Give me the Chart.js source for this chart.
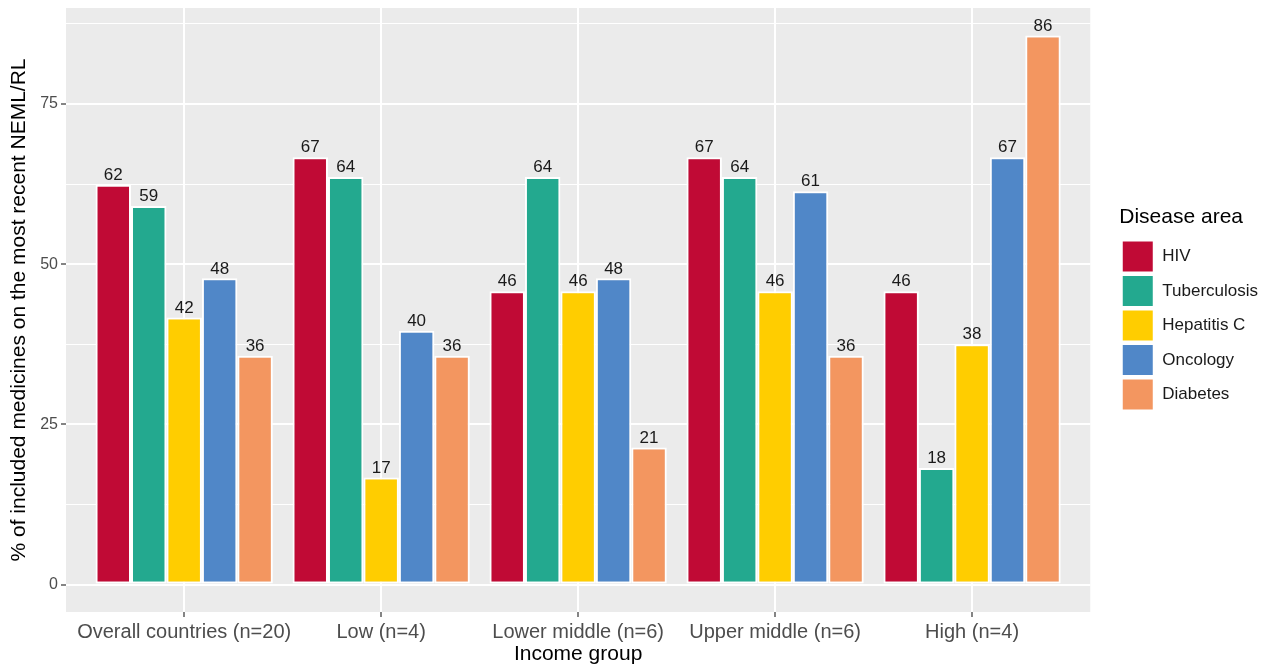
<!DOCTYPE html>
<html>
<head>
<meta charset="utf-8">
<script src="https://cdn.jsdelivr.net/npm/chart.js@4.4.1/dist/chart.umd.min.js"></script>
<style>
  html, body { margin: 0; padding: 0; background: #fff; }
  #wrap { width: 1275px; height: 667px; position: relative; }
</style>
</head>
<body>
<div id="wrap"><canvas id="chart"></canvas></div>
<script>
// income groups on the x axis
const incomeGroups = ['Overall countries (n=20)', 'Low (n=4)', 'Lower middle (n=6)', 'Upper middle (n=6)', 'High (n=4)'];

// % of included medicines per disease area
const hivValues      = [62.4, 66.7, 45.8, 66.7, 45.8];
const tbValues       = [59.1, 63.6, 63.6, 63.6, 18.2];
const hepCValues     = [41.7, 16.7, 45.8, 45.8, 37.5];
const oncologyValues = [47.8, 39.6, 47.8, 61.4, 66.7];
const diabetesValues = [35.7, 35.7, 21.4, 35.7, 85.7];

const diseaseNames  = ['HIV', 'Tuberculosis', 'Hepatitis C', 'Oncology', 'Diabetes'];
const diseaseColors = ['#C00A35', '#23A98F', '#FFCD00', '#5087C8', '#F39660'];
const seriesValues  = [hivValues, tbValues, hepCValues, oncologyValues, diabetesValues];

const yTicks = [0, 25, 50, 75];

const FONT = '"Liberation Sans", Arial, sans-serif';
const LEGEND_GAP = 29; // space between panel and legend keys

// grey panel like ggplot
const panelBg = {
    id: 'panelBg',
    beforeDraw(chart) {
        const { ctx, chartArea: a } = chart;
        ctx.save();
        ctx.fillStyle = '#EBEBEB';
        ctx.fillRect(a.left, a.top, a.right - a.left, a.bottom - a.top);
        ctx.restore();
    }
};

// push the legend away from the panel
const legendGap = {
    id: 'legendGap',
    afterInit(chart) {
        const lg = chart.legend;
        const fit = lg.fit.bind(lg);
        lg.fit = function () { fit(); this.width += LEGEND_GAP; };
    },
    afterLayout(chart) {
        chart.legend.left += LEGEND_GAP;
        chart.legend.right += LEGEND_GAP;
    }
};

// numbers above bars
const barLabels = {
    id: 'barLabels',
    afterDatasetsDraw(chart) {
        const ctx = chart.ctx;
        ctx.save();
        ctx.font = '17px ' + FONT;
        ctx.fillStyle = '#1A1A1A';
        ctx.textAlign = 'center';
        ctx.textBaseline = 'bottom';
        chart.data.datasets.forEach((ds, i) => {
            chart.getDatasetMeta(i).data.forEach((bar, j) => {
                ctx.fillText(Math.round(ds.data[j].y), bar.x, bar.y - 1);
            });
        });
        ctx.restore();
    }
};

const datasets = diseaseNames.map((name, i) => ({
    label: name,
    data: seriesValues[i].map((v, j) => ({ x: j, y: v })),
    backgroundColor: diseaseColors[i],
    borderColor: '#FFFFFF',
    borderWidth: 2,
    borderSkipped: false,
    categoryPercentage: 0.9,
    barPercentage: 1.0
}));

new Chart(document.getElementById('chart'), {
    type: 'bar',
    data: { datasets },
    plugins: [panelBg, legendGap, barLabels],
    options: {
        responsive: true,
        maintainAspectRatio: false,
        animation: false,
        layout: { padding: { top: 8, right: 7, left: 0, bottom: 0 } },
        plugins: {
            tooltip: { enabled: false },
            legend: {
                position: 'right',
                align: 'center',
                fullSize: false,
                title: {
                    display: true,
                    position: 'start',
                    text: 'Disease area',
                    color: '#000',
                    font: { family: FONT, size: 21 },
                    padding: { top: 0, bottom: 6 }
                },
                labels: {
                    boxWidth: 32,
                    boxHeight: 32,
                    padding: 2.5,
                    color: '#1A1A1A',
                    font: { family: FONT, size: 17 }
                }
            }
        },
        scales: {
            x: {
                type: 'linear',
                min: -0.6,
                max: 4.6,
                offset: false,
                border: { display: false },
                grid: { offset: false, color: '#FFFFFF', lineWidth: 2, tickColor: '#333333', tickLength: 5, tickWidth: 1.2 },
                ticks: {
                    stepSize: 1,
                    includeBounds: false,
                    autoSkip: false,
                    maxRotation: 0,
                    padding: 3,
                    color: '#4D4D4D',
                    font: { family: FONT, size: 20 },
                    callback: v => incomeGroups[v] ?? ''
                },
                title: {
                    display: true,
                    text: 'Income group',
                    color: '#000',
                    font: { family: FONT, size: 21 },
                    padding: { top: 0, bottom: 0 }
                },
                afterFit(scale) { scale.height = 55; }
            },
            y: {
                min: -4.29,
                max: 90.0,
                border: { display: false },
                grid: {
                    color: '#FFFFFF',
                    lineWidth: c => yTicks.includes(c.tick.value) ? 2 : 1.1,
                    tickColor: c => yTicks.includes(c.tick.value) ? '#333333' : 'rgba(0,0,0,0)',
                    tickLength: 5,
                    tickWidth: 1.2
                },
                ticks: {
                    stepSize: 12.5,
                    includeBounds: false,
                    autoSkip: false,
                    padding: 3,
                    color: '#4D4D4D',
                    font: { family: FONT, size: 16 },
                    callback: v => yTicks.includes(v) ? String(v) : ''
                },
                title: {
                    display: true,
                    text: '% of included medicines on the most recent NEML/RL',
                    color: '#000',
                    font: { family: FONT, size: 21 },
                    padding: { top: 7, bottom: 0 }
                },
                afterFit(scale) {
                    scale.width = 66;
                    scale.paddingTop = 0;
                    scale.paddingBottom = 0;
                }
            }
        }
    }
});
</script>
</body>
</html>
